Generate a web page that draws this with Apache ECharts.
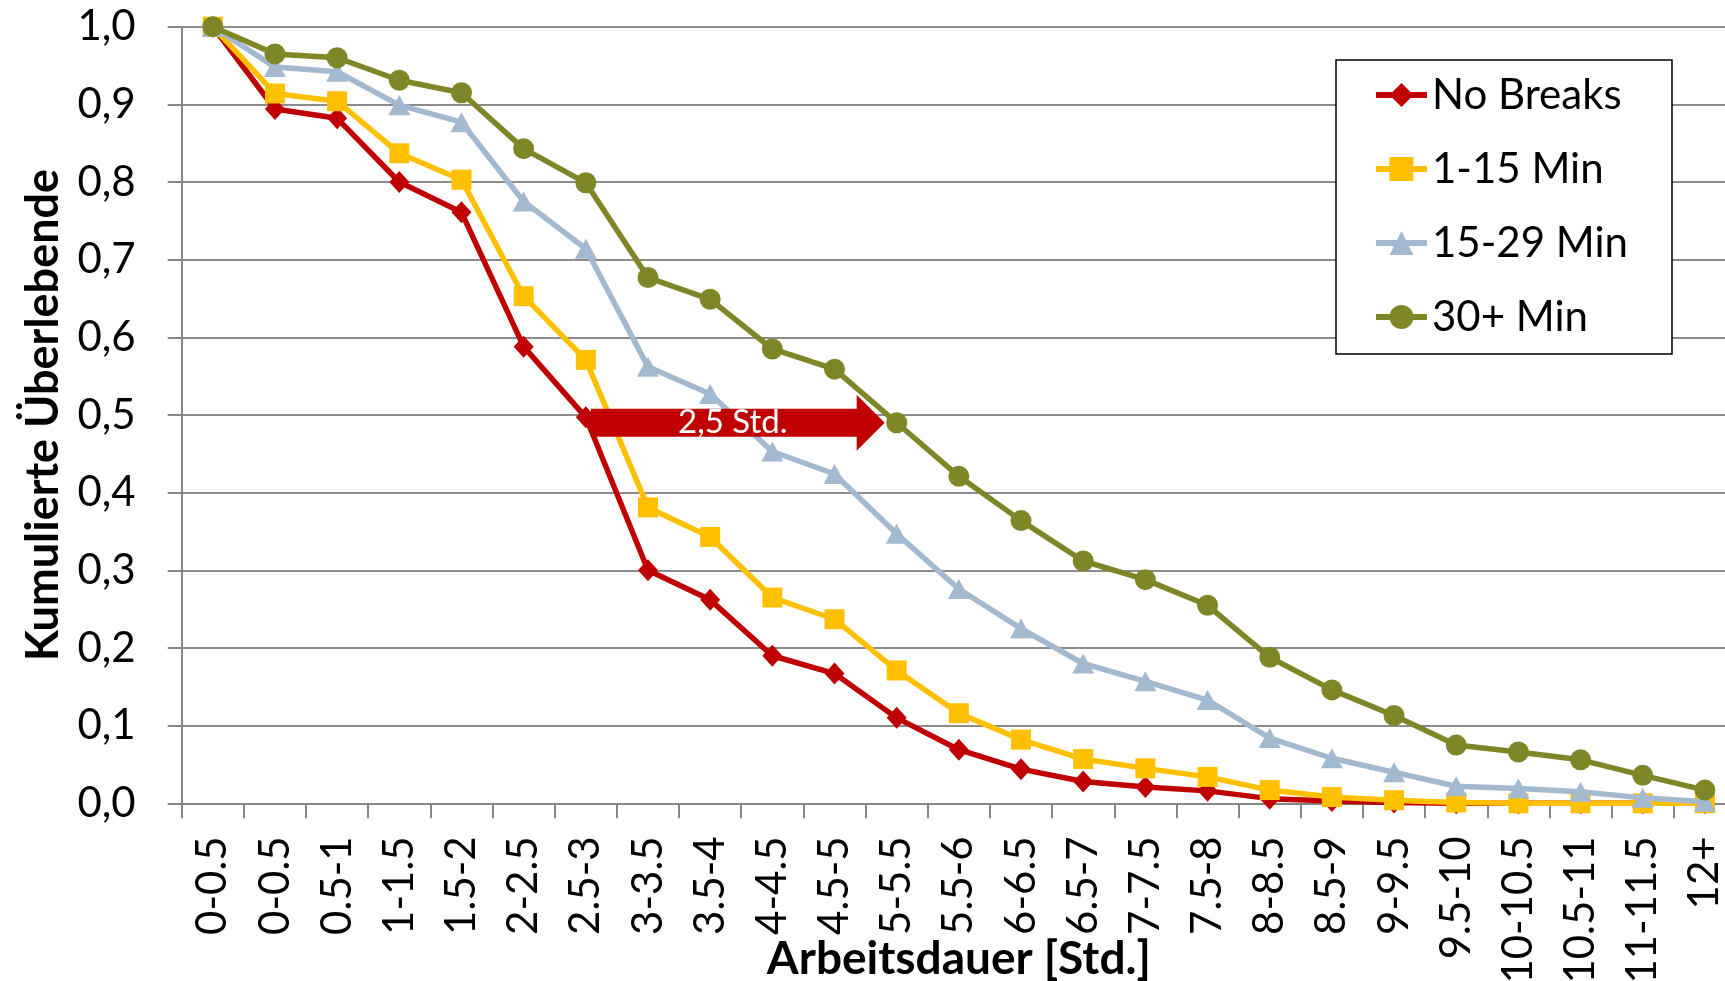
<!DOCTYPE html>
<html><head><meta charset="utf-8">
<script src="https://cdn.jsdelivr.net/npm/echarts@6/dist/echarts.min.js"></script>
<style>html,body{margin:0;padding:0;background:#fff}#c{width:1725px;height:981px}</style>
</head><body><div id="c"></div>
<script>
const categories = ['0-0.5','0-0.5','0.5-1','1-1.5','1.5-2','2-2.5','2.5-3','3-3.5','3.5-4','4-4.5','4.5-5','5-5.5','5.5-6','6-6.5','6.5-7','7-7.5','7.5-8','8-8.5','8.5-9','9-9.5','9.5-10','10-10.5','10.5-11','11-11.5','12+'];
const seriesNames = ['No Breaks','1-15 Min','15-29 Min','30+ Min'];
const noBreaks  = [1.0,0.894,0.882,0.800,0.761,0.588,0.497,0.300,0.262,0.190,0.167,0.110,0.069,0.044,0.028,0.021,0.016,0.006,0.003,0.001,0.0,0.0,0.0,0.0,0.0];
const min1to15  = [1.0,0.914,0.904,0.837,0.803,0.653,0.571,0.381,0.343,0.265,0.237,0.171,0.116,0.082,0.057,0.045,0.034,0.017,0.008,0.004,0.001,0.0,0.0,0.0,0.0];
const min15to29 = [1.0,0.948,0.942,0.899,0.877,0.775,0.714,0.562,0.527,0.453,0.424,0.347,0.276,0.225,0.180,0.157,0.133,0.084,0.058,0.040,0.022,0.019,0.015,0.007,0.002];
const min30plus = [1.0,0.965,0.960,0.931,0.915,0.843,0.799,0.677,0.649,0.585,0.559,0.490,0.421,0.364,0.312,0.288,0.255,0.188,0.146,0.113,0.075,0.066,0.056,0.036,0.017];
const yTickLabels = ['0,0','0,1','0,2','0,3','0,4','0,5','0,6','0,7','0,8','0,9','1,0'];
const arrowFrom = '2.5-3';
const arrowTo = '5-5.5';
const arrowValue = 0.49;
const arrowText = '2,5 Std.';

const colors = ['#C00000','#FFC000','#A2B9D0','#7F8628'];
const symbols = ['diamond','rect','triangle','circle'];
const symbolSizes = [[20,22],20,[22,20],21];
const values = [noBreaks, min1to15, min15to29, min30plus];
const FONT = 'Lato';

const lineSeries = seriesNames.map((n,i)=>({
  name:n, type:'line', data:values[i],
  symbol:symbols[i], symbolSize:symbolSizes[i], showAllSymbol:true,
  lineStyle:{color:colors[i], width:5.5},
  itemStyle:{color:colors[i]},
  z: 2+i
}));

const arrowSeries = {
  type:'custom', z:20, silent:true,
  data:[[categories.indexOf(arrowFrom), categories.indexOf(arrowTo), arrowValue]],
  encode:{x:0, y:2},
  renderItem(params, api){
    const p0 = api.coord([api.value(0), api.value(2)]);
    const p1 = api.coord([api.value(1), api.value(2)]);
    const x0 = p0[0] + 5, x1 = p1[0] - 12, y = p0[1];
    const bh = 14, hh = 28, hl = 28;
    const xb = x1 - hl;
    return {type:'group', children:[
      {type:'polygon', shape:{points:[[x0,y-bh],[xb,y-bh],[xb,y-hh],[x1,y],[xb,y+hh],[xb,y+bh],[x0,y+bh]]}, style:{fill:'#C00000'}},
      {type:'text', style:{text:arrowText, x:(x0+x1)/2 - 5, y:y, align:'center', verticalAlign:'middle', fill:'#fff', fontSize:33, fontFamily:FONT}}
    ]};
  }
};

const chart = echarts.init(document.getElementById('c'), null, {renderer:'canvas'});
chart.setOption({
  animation:false,
  backgroundColor:'#fff',
  grid:{left:181.7, right:-11, top:26.7, bottom:177.7, containLabel:false, outerBoundsMode:'none'},
  legend:{
    orient:'vertical', left:1336, top:60,
    backgroundColor:'#fff', borderColor:'#000', borderWidth:1.5,
    padding:[14,44,16,37], itemGap:32, itemWidth:51, itemHeight:30,
    lineStyle:{width:6},
    textStyle:{fontFamily:FONT, fontSize:42, color:'#000'},
    data:seriesNames
  },
  xAxis:{
    type:'category', data:categories, boundaryGap:true,
    axisLine:{lineStyle:{color:'#868686', width:2}},
    axisTick:{show:true, length:15, interval:0, lineStyle:{color:'#868686', width:2}},
    axisLabel:{interval:0, rotate:90, margin:33, fontFamily:FONT, fontSize:42, color:'#000'},
    splitLine:{show:false},
    name:'Arbeitsdauer [Std.]', nameLocation:'middle', nameGap:133, nameMoveOverlap:false,
    nameTextStyle:{fontFamily:FONT, fontWeight:'bold', fontSize:46, color:'#000'}
  },
  yAxis:{
    type:'value', min:0, max:1, interval:0.1,
    axisLine:{show:true, lineStyle:{color:'#868686', width:2}},
    axisTick:{show:true, length:14, lineStyle:{color:'#868686', width:2}},
    splitLine:{show:true, lineStyle:{color:'#8c8c8c', width:2}},
    axisLabel:{margin:46, fontFamily:FONT, fontSize:42, color:'#000', formatter:v=>yTickLabels[Math.round(v*10)]},
    name:'Kumulierte Überlebende', nameLocation:'middle', nameGap:116, nameMoveOverlap:false,
    nameTextStyle:{fontFamily:FONT, fontWeight:'bold', fontSize:45, color:'#000'}
  },
  series:[...lineSeries, arrowSeries]
});
</script></body></html>
